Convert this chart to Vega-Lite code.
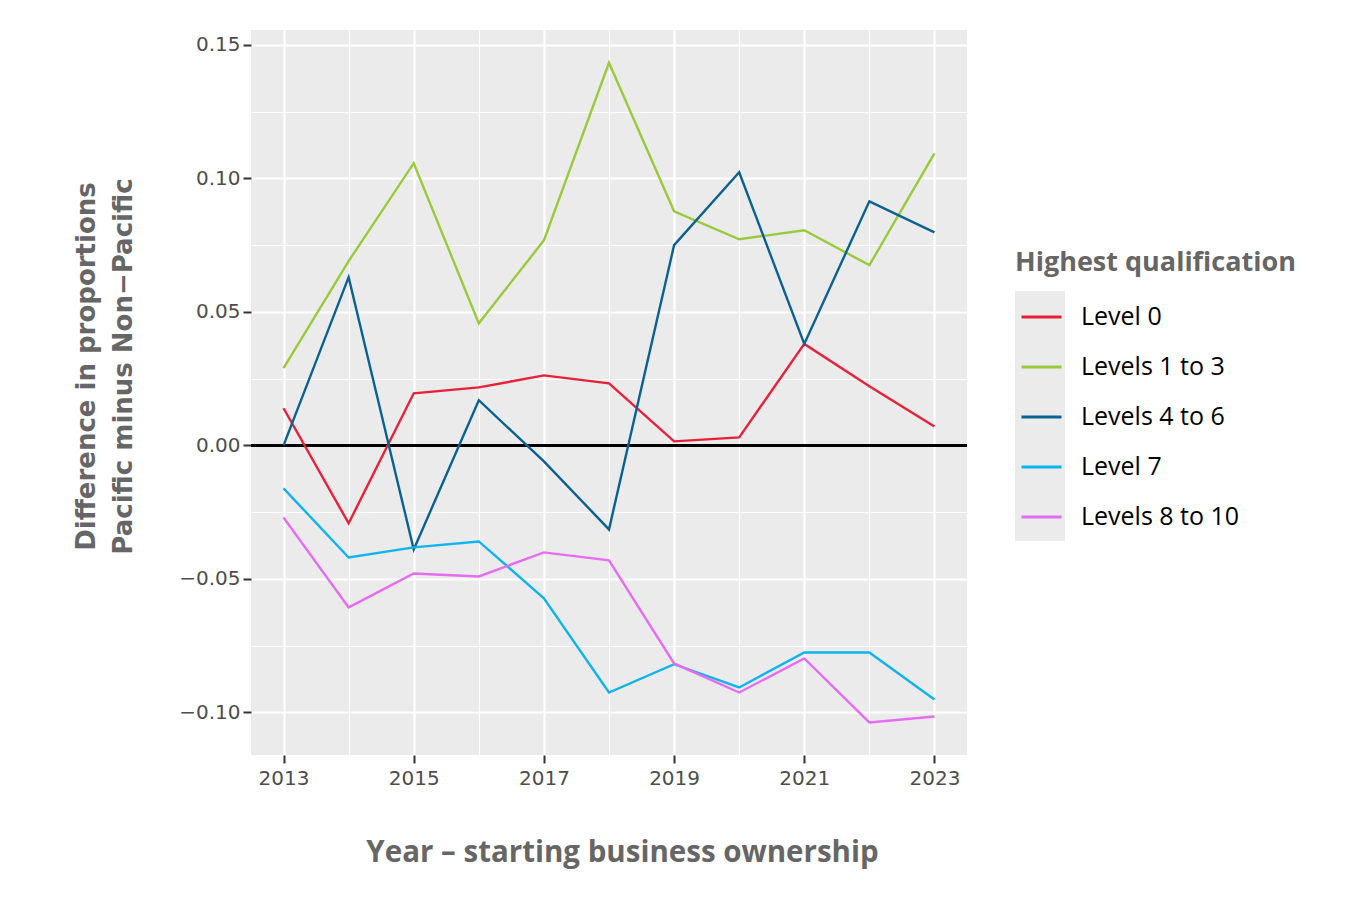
{
  "$schema": "https://vega.github.io/schema/vega-lite/v6.json",
  "width": 716,
  "height": 725,
  "padding": {"left": 73, "top": 30, "right": 5, "bottom": 5},
  "background": "white",
  "config": {
    "view": {"fill": "#EBEBEB", "stroke": null},
    "axis": {
      "domain": false,
      "gridColor": "white",
      "labelFont": "DejaVu Sans",
      "labelFontSize": 20,
      "labelColor": "#4D4D4D",
      "tickColor": "#333333",
      "tickWidth": 2,
      "titleFont": "Open Sans",
      "titleFontWeight": "bold",
      "titleColor": "#666666"
    }
  },
  "data": {
    "values": [
      {"year": 2013, "series": "Level 0", "value": 0.0139},
      {"year": 2014, "series": "Level 0", "value": -0.0292},
      {"year": 2015, "series": "Level 0", "value": 0.0195},
      {"year": 2016, "series": "Level 0", "value": 0.0217},
      {"year": 2017, "series": "Level 0", "value": 0.0262},
      {"year": 2018, "series": "Level 0", "value": 0.0232},
      {"year": 2019, "series": "Level 0", "value": 0.0015},
      {"year": 2020, "series": "Level 0", "value": 0.003},
      {"year": 2021, "series": "Level 0", "value": 0.038},
      {"year": 2022, "series": "Level 0", "value": 0.0221},
      {"year": 2023, "series": "Level 0", "value": 0.0071},
      {"year": 2013, "series": "Levels 1 to 3", "value": 0.0289},
      {"year": 2014, "series": "Levels 1 to 3", "value": 0.069},
      {"year": 2015, "series": "Levels 1 to 3", "value": 0.1057},
      {"year": 2016, "series": "Levels 1 to 3", "value": 0.0457},
      {"year": 2017, "series": "Levels 1 to 3", "value": 0.0768},
      {"year": 2018, "series": "Levels 1 to 3", "value": 0.1433},
      {"year": 2019, "series": "Levels 1 to 3", "value": 0.0877},
      {"year": 2020, "series": "Levels 1 to 3", "value": 0.0772},
      {"year": 2021, "series": "Levels 1 to 3", "value": 0.0806},
      {"year": 2022, "series": "Levels 1 to 3", "value": 0.0675},
      {"year": 2023, "series": "Levels 1 to 3", "value": 0.1094},
      {"year": 2013, "series": "Levels 4 to 6", "value": 0.0},
      {"year": 2014, "series": "Levels 4 to 6", "value": 0.063},
      {"year": 2015, "series": "Levels 4 to 6", "value": -0.039},
      {"year": 2016, "series": "Levels 4 to 6", "value": 0.0169},
      {"year": 2017, "series": "Levels 4 to 6", "value": -0.006},
      {"year": 2018, "series": "Levels 4 to 6", "value": -0.0315},
      {"year": 2019, "series": "Levels 4 to 6", "value": 0.075},
      {"year": 2020, "series": "Levels 4 to 6", "value": 0.1023},
      {"year": 2021, "series": "Levels 4 to 6", "value": 0.038},
      {"year": 2022, "series": "Levels 4 to 6", "value": 0.0914},
      {"year": 2023, "series": "Levels 4 to 6", "value": 0.0798},
      {"year": 2013, "series": "Level 7", "value": -0.0161},
      {"year": 2014, "series": "Level 7", "value": -0.042},
      {"year": 2015, "series": "Level 7", "value": -0.0382},
      {"year": 2016, "series": "Level 7", "value": -0.036},
      {"year": 2017, "series": "Level 7", "value": -0.0573},
      {"year": 2018, "series": "Level 7", "value": -0.0926},
      {"year": 2019, "series": "Level 7", "value": -0.082},
      {"year": 2020, "series": "Level 7", "value": -0.0907},
      {"year": 2021, "series": "Level 7", "value": -0.0776},
      {"year": 2022, "series": "Level 7", "value": -0.0776},
      {"year": 2023, "series": "Level 7", "value": -0.0952},
      {"year": 2013, "series": "Levels 8 to 10", "value": -0.027},
      {"year": 2014, "series": "Levels 8 to 10", "value": -0.0607},
      {"year": 2015, "series": "Levels 8 to 10", "value": -0.048},
      {"year": 2016, "series": "Levels 8 to 10", "value": -0.0491},
      {"year": 2017, "series": "Levels 8 to 10", "value": -0.0401},
      {"year": 2018, "series": "Levels 8 to 10", "value": -0.0431},
      {"year": 2019, "series": "Levels 8 to 10", "value": -0.0817},
      {"year": 2020, "series": "Levels 8 to 10", "value": -0.0926},
      {"year": 2021, "series": "Levels 8 to 10", "value": -0.0798},
      {"year": 2022, "series": "Levels 8 to 10", "value": -0.1038},
      {"year": 2023, "series": "Levels 8 to 10", "value": -0.1016}
    ]
  },
  "encoding": {
    "x": {
      "field": "year",
      "type": "quantitative",
      "scale": {"domain": [2012.5, 2023.5], "nice": false, "zero": false},
      "axis": {
        "title": "Year \u2013 starting business ownership",
        "titleFontSize": 29.5,
        "titlePadding": 50,
        "titleX": 371,
        "titleAlign": "center",
        "values": [2013, 2014, 2015, 2016, 2017, 2018, 2019, 2020, 2021, 2022, 2023],
        "format": "d",
        "labelExpr": "datum.value % 2 == 1 ? datum.label : ''",
        "gridWidth": {"condition": {"test": "datum.value % 2 == 1", "value": 2.2}, "value": 1.1},
        "tickOpacity": {"condition": {"test": "datum.value % 2 == 1", "value": 1}, "value": 0},
        "tickSize": 8,
        "labelPadding": 5
      }
    },
    "y": {
      "field": "value",
      "type": "quantitative",
      "scale": {"domain": [-0.116, 0.1556], "nice": false, "zero": false},
      "axis": {
        "title": ["Difference in proportions", "Pacific minus Non\u2212Pacific"],
        "titleFont": "DejaVu Sans",
        "titleFontSize": 26,
        "titleLineHeight": 37,
        "titlePadding": 42,
        "titleY": 336,
        "values": [-0.125, -0.1, -0.075, -0.05, -0.025, 0, 0.025, 0.05, 0.075, 0.1, 0.125, 0.15],
        "format": ".2f",
        "labelExpr": "abs(datum.value*20 - round(datum.value*20)) < 0.001 ? datum.label : ''",
        "gridWidth": {"condition": {"test": "abs(datum.value*20 - round(datum.value*20)) < 0.001", "value": 2.2}, "value": 1.1},
        "tickOpacity": {"condition": {"test": "abs(datum.value*20 - round(datum.value*20)) < 0.001", "value": 1}, "value": 0},
        "tickSize": 8,
        "labelPadding": 3
      }
    }
  },
  "layer": [
    {
      "mark": {"type": "square", "opacity": 0},
      "encoding": {
        "color": {
          "field": "series",
          "type": "nominal",
          "scale": {
            "domain": ["Level 0", "Levels 1 to 3", "Levels 4 to 6", "Level 7", "Levels 8 to 10"],
            "range": ["#EBEBEB", "#EBEBEB", "#EBEBEB", "#EBEBEB", "#EBEBEB"]
          },
          "legend": {
            "orient": "none",
            "legendX": 764,
            "legendY": 261,
            "title": null,
            "symbolType": "square",
            "symbolSize": 2500,
            "symbolOpacity": 1,
            "symbolStrokeWidth": 0,
            "symbolFillColor": "#EBEBEB",
            "rowPadding": 0,
            "clipHeight": 50,
            "labelExpr": "''",
            "labelOpacity": 0
          }
        }
      }
    },
    {
      "mark": {"type": "rule", "color": "black", "strokeWidth": 1.6},
      "encoding": {"x": null, "y": {"datum": 0}}
    },
    {
      "mark": {"type": "line", "strokeWidth": 2.4},
      "encoding": {
        "stroke": {
          "field": "series",
          "type": "nominal",
          "sort": ["Level 0", "Levels 1 to 3", "Levels 4 to 6", "Level 7", "Levels 8 to 10"],
          "scale": {
            "range": ["#E8213A", "#9BC93C", "#0B6190", "#0FB4EE", "#E56DF2"]
          },
          "legend": {
            "orient": "none",
            "legendX": 764,
            "legendY": 220,
            "title": "Highest qualification",
            "titleFont": "Open Sans",
            "titleFontWeight": "bold",
            "titleFontSize": 27,
            "titleColor": "#666666",
            "titleLimit": 500,
            "titlePadding": 15,
            "labelFont": "Open Sans",
            "labelFontSize": 25,
            "labelColor": "black",
            "labelLimit": 400,
            "labelOffset": 18,
            "symbolType": "stroke",
            "symbolSize": 1600,
            "symbolStrokeWidth": 3,
            "symbolOffset": 5,
            "rowPadding": 0,
            "clipHeight": 50
          }
        }
      }
    }
  ]
}
